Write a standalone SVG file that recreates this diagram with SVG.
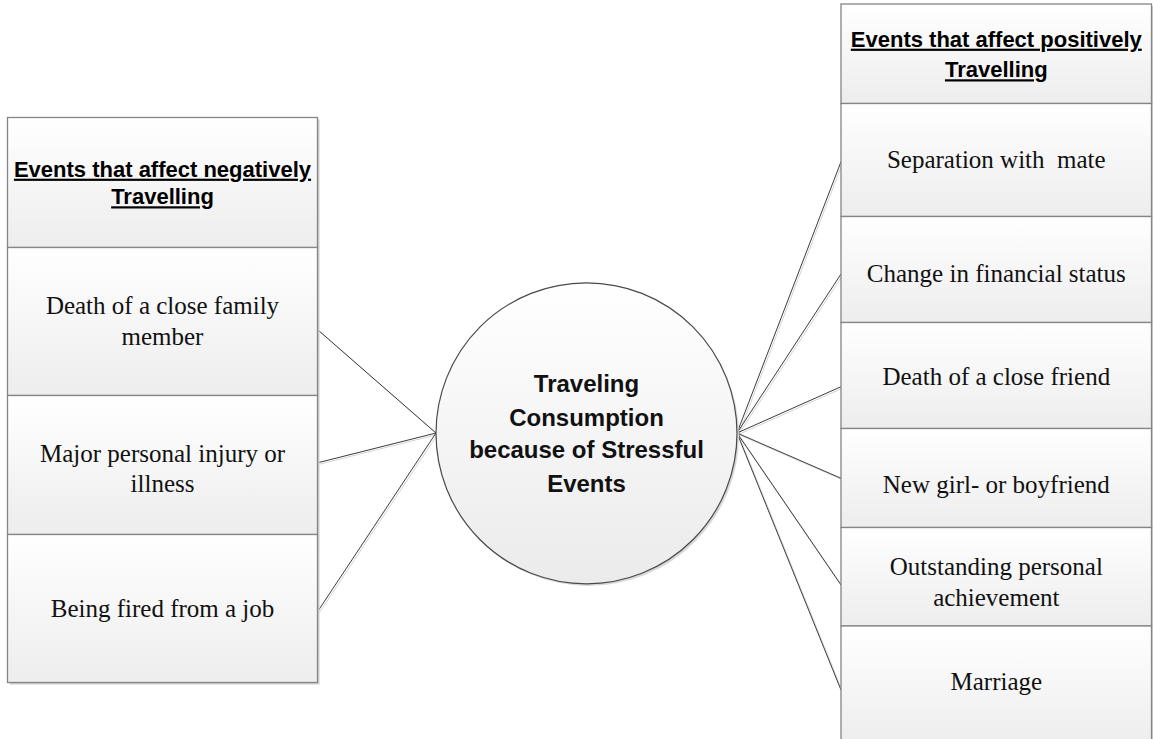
<svg xmlns="http://www.w3.org/2000/svg" width="1153" height="739" viewBox="0 0 1153 739">
  <defs>
    <linearGradient id="cellFill" x1="0" y1="0" x2="0" y2="1">
      <stop offset="0" stop-color="#ffffff"/>
      <stop offset="1" stop-color="#ededed"/>
    </linearGradient>
    <linearGradient id="hubFill" x1="0" y1="0" x2="0" y2="1">
      <stop offset="0" stop-color="#ffffff"/>
      <stop offset="1" stop-color="#ebebeb"/>
    </linearGradient>
  </defs>
  <style>
    .cell { fill: url(#cellFill); stroke: #858585; stroke-width: 1.3; }
    .shadow { fill: #cfcfcf; }
    .head { font-family: "Liberation Sans", Arial, sans-serif; font-weight: bold; font-size: 22px; text-anchor: middle; fill: #000; text-decoration: underline; }
    .item { font-family: "Liberation Serif", "Times New Roman", serif; font-size: 25px; text-anchor: middle; fill: #111; }
    .hub { font-family: "Liberation Sans", Arial, sans-serif; font-weight: bold; font-size: 24px; text-anchor: middle; fill: #111; }
    .link { stroke: #3c3c3c; stroke-width: 1; fill: none; }
    .linkShade { stroke: #d4d4d4; stroke-width: 1; fill: none; }
  </style>

  <rect width="1153" height="739" fill="#ffffff"/>

  <!-- connectors -->
  <g id="connectors">
    <g transform="translate(1.5,1.5)">
      <line class="linkShade" x1="318" y1="330" x2="436" y2="433"/>
      <line class="linkShade" x1="318" y1="462.7" x2="436" y2="433"/>
      <line class="linkShade" x1="318" y1="611" x2="436" y2="433"/>
      <line class="linkShade" x1="737" y1="433" x2="841" y2="161.7"/>
      <line class="linkShade" x1="737" y1="433" x2="841" y2="274"/>
      <line class="linkShade" x1="737" y1="433" x2="841" y2="386.7"/>
      <line class="linkShade" x1="737" y1="433" x2="841" y2="478.3"/>
      <line class="linkShade" x1="737" y1="433" x2="841" y2="585"/>
      <line class="linkShade" x1="737" y1="433" x2="841" y2="690"/>
    </g>
    <line class="link" x1="318" y1="330" x2="436" y2="433"/>
    <line class="link" x1="318" y1="462.7" x2="436" y2="433"/>
    <line class="link" x1="318" y1="611" x2="436" y2="433"/>
    <line class="link" x1="737" y1="433" x2="841" y2="161.7"/>
    <line class="link" x1="737" y1="433" x2="841" y2="274"/>
    <line class="link" x1="737" y1="433" x2="841" y2="386.7"/>
    <line class="link" x1="737" y1="433" x2="841" y2="478.3"/>
    <line class="link" x1="737" y1="433" x2="841" y2="585"/>
    <line class="link" x1="737" y1="433" x2="841" y2="690"/>
  </g>

  <!-- negative events column -->
  <g id="negative-events">
    <rect class="shadow" x="9.5" y="119.5" width="310" height="565"/>
    <g id="neg-header">
      <rect class="cell" x="7.5" y="117.5" width="310" height="130"/>
      <text class="head" x="162.5" y="176.7">Events that affect negatively</text>
      <text class="head" x="162.5" y="204.3">Travelling</text>
    </g>
    <g id="neg-death-family">
      <rect class="cell" x="7.5" y="247.5" width="310" height="148"/>
      <text class="item" x="162.5" y="314">Death of a close family</text>
      <text class="item" x="162.5" y="345">member</text>
    </g>
    <g id="neg-injury">
      <rect class="cell" x="7.5" y="395.5" width="310" height="139"/>
      <text class="item" x="162.5" y="461.7">Major personal injury or</text>
      <text class="item" x="162.5" y="491.7">illness</text>
    </g>
    <g id="neg-fired">
      <rect class="cell" x="7.5" y="534.5" width="310" height="148"/>
      <text class="item" x="162.5" y="616.7">Being fired from a job</text>
    </g>
  </g>

  <!-- central hub -->
  <g id="hub">
    <circle cx="588.5" cy="435.5" r="150.5" fill="#d9d9d9"/>
    <circle cx="586.5" cy="433.3" r="150.5" fill="url(#hubFill)" stroke="#4a4a4a" stroke-width="1.2"/>
    <text class="hub" x="586.5" y="391.7">Traveling</text>
    <text class="hub" x="586.5" y="425.5">Consumption</text>
    <text class="hub" x="586.5" y="458.3">because of Stressful</text>
    <text class="hub" x="586.5" y="491.7">Events</text>
  </g>

  <!-- positive events column -->
  <g id="positive-events">
    <rect class="shadow" x="843" y="6" width="310.5" height="745"/>
    <g id="pos-header">
      <rect class="cell" x="841" y="4" width="310.5" height="99.5"/>
      <text class="head" x="996.3" y="46.7">Events that affect positively</text>
      <text class="head" x="996.3" y="77.3">Travelling</text>
    </g>
    <g id="pos-separation">
      <rect class="cell" x="841" y="103.5" width="310.5" height="113"/>
      <text class="item" x="996.3" y="168.3" xml:space="preserve">Separation with  mate</text>
    </g>
    <g id="pos-financial">
      <rect class="cell" x="841" y="216.5" width="310.5" height="106"/>
      <text class="item" x="996.3" y="281.7">Change in financial status</text>
    </g>
    <g id="pos-death-friend">
      <rect class="cell" x="841" y="322.5" width="310.5" height="106"/>
      <text class="item" x="996.3" y="385">Death of a close friend</text>
    </g>
    <g id="pos-new-partner">
      <rect class="cell" x="841" y="428.5" width="310.5" height="99"/>
      <text class="item" x="996.3" y="492.7">New girl- or boyfriend</text>
    </g>
    <g id="pos-achievement">
      <rect class="cell" x="841" y="527.5" width="310.5" height="98.5"/>
      <text class="item" x="996.3" y="575">Outstanding personal</text>
      <text class="item" x="996.3" y="606">achievement</text>
    </g>
    <g id="pos-marriage">
      <rect class="cell" x="841" y="626" width="310.5" height="120"/>
      <text class="item" x="996.3" y="690">Marriage</text>
    </g>
  </g>
</svg>
